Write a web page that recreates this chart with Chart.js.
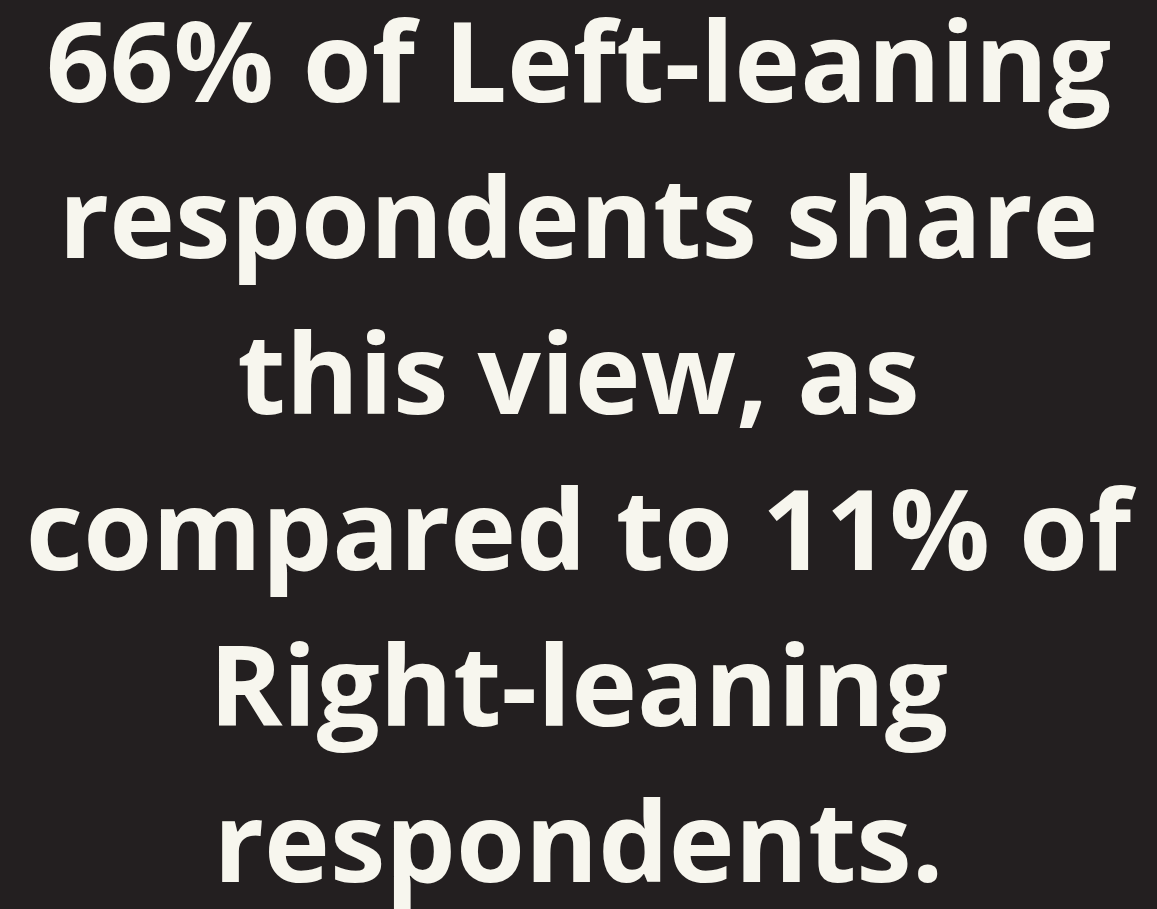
<!DOCTYPE html>
<html>
<head>
<meta charset="utf-8">
<script src="https://cdn.jsdelivr.net/npm/chart.js@4.4.1/dist/chart.umd.min.js"></script>
<style>
  html, body { margin: 0; padding: 0; background: #231f20; }
  #wrap { width: 1157px; height: 909px; position: relative; }
</style>
</head>
<body>
<div id="wrap"><canvas id="statChart"></canvas></div>
<script>
// values shown in the statement
const groups = ['Left-leaning', 'Right-leaning'];
const shares = [66, 11];

// the statement, broken into lines as in the picture
const titleLines = [
  `${shares[0]}% of ${groups[0]}`,
  'respondents share',
  'this view, as',
  `compared to ${shares[1]}% of`,
  groups[1],
  'respondents.'
];

const ctx = document.getElementById('statChart');

const chart = new Chart(ctx, {
  type: 'bar',
  data: {
    labels: groups,
    datasets: [{
      data: shares,
      backgroundColor: 'rgba(0,0,0,0)',
      borderWidth: 0
    }]
  },
  options: {
    responsive: true,
    maintainAspectRatio: false,
    animation: false,
    layout: { padding: 0 },
    scales: {
      x: { display: false },
      y: { display: false, min: 0, max: 100 }
    },
    plugins: {
      legend: { display: false },
      tooltip: { enabled: false },
      title: {
        display: true,
        text: titleLines,
        color: '#f7f6ee',
        align: 'center',
        font: { family: '"Open Sans"', size: 111.5, weight: 'bold', lineHeight: 1.4 },
        padding: { top: -8, bottom: 0 }
      }
    }
  }
});
</script>
</body>
</html>
